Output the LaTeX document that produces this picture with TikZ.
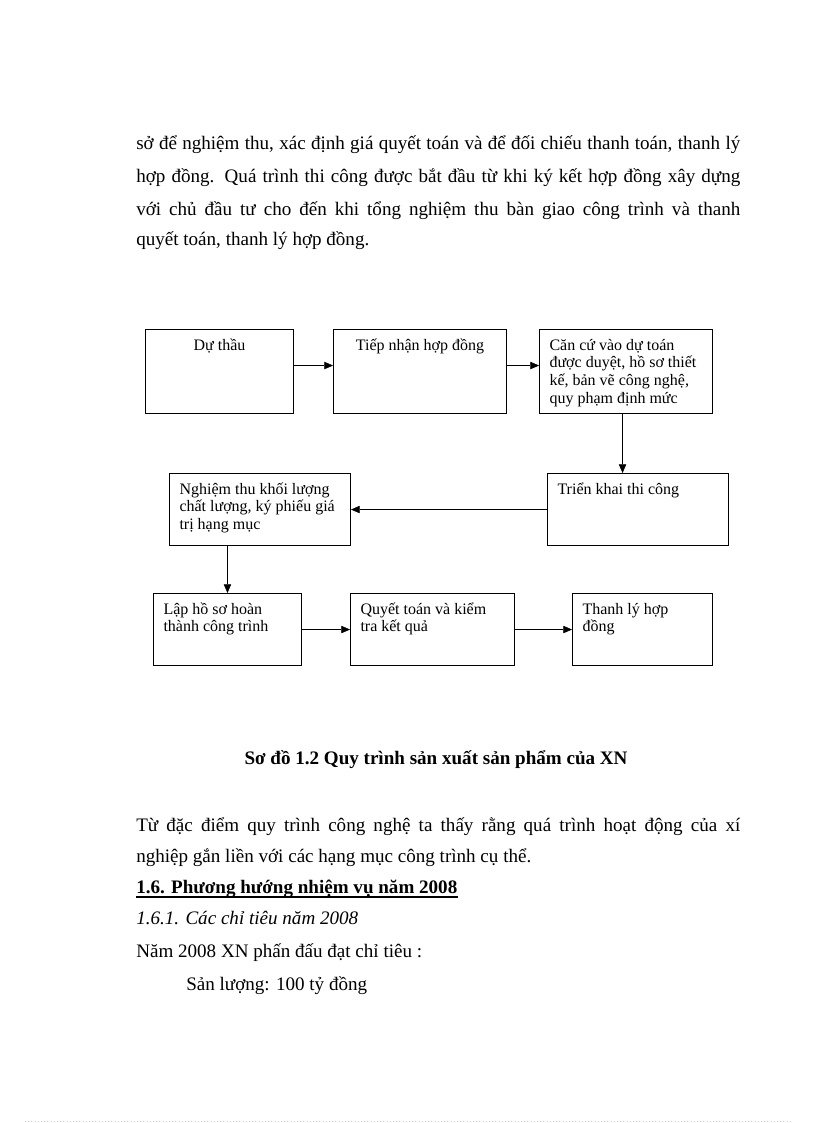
\documentclass[tikz,border=0pt]{standalone}
\usepackage{fontspec}
\setmainfont{Liberation Serif}
\usetikzlibrary{arrows.meta,positioning,calc}
\newdimen\pxu \pxu=0.75pt
\newcommand{\cell}[3]{\parbox[c][\dimexpr#2\pxu-17\pxu\relax][t]{\dimexpr#1\pxu-20\pxu\relax}{\raggedright\strut #3}}

\begin{document}
\begin{tikzpicture}[x=0.75pt,y=-0.75pt,
		box/.style={draw,line width=0.75pt,inner xsep=7.5pt,inner ysep=6.4pt,anchor=north west,font=\fontsize{12}{13.2}\selectfont},
		txt/.style={inner sep=0pt,anchor=base west,font=\fontsize{14.3}{17}\selectfont},
		>={Triangle[length=6.5pt,width=5.5pt]}]
	\useasboundingbox (0,0) rectangle (816,1123);
	\node[txt] (p1) at (136,150) {\makebox[604\pxu][s]{sở để nghiệm thu, xác định giá quyết toán và để đối chiếu thanh toán, thanh lý}};
	\node[txt] (p2) at (136,183) {\makebox[604\pxu][s]{hợp đồng. Quá trình thi công được bắt đầu từ khi ký kết hợp đồng xây dựng}};
	\node[txt] (p3) at (136,216) {\makebox[604\pxu][s]{với chủ đầu tư cho đến khi tổng nghiệm thu bàn giao công trình và thanh}};
	\node[txt] (p4) at (136,245) {quyết toán, thanh lý hợp đồng.};

	\node[box] (bid) at (145,329) {\cell{148}{84}{\centering Dự thầu}};
	\node[box] (contract) at (333,329) {\cell{173}{84}{\centering Tiếp nhận hợp đồng}};
	\node[box] (basis) at (539,329) {\cell{173}{84}{Căn cứ vào dự toán\\được duyệt, hồ sơ thiết\\kế, bản vẽ công nghệ,\\quy phạm định mức}};
	\node[box] (build) at (547,473) {\cell{181}{72}{Triển khai thi công}};
	\node[box] (accept) at (169,473) {\cell{181}{72}{Nghiệm thu khối lượng\\chất lượng, ký phiếu giá\\trị hạng mục}};
	\node[box] (dossier) at (153,593) {\cell{148}{72}{Lập hồ sơ hoàn\\thành công trình}};
	\node[box] (settle) at (350,593) {\cell{164}{72}{Quyết toán và kiểm\\tra kết quả}};
	\node[box] (close) at (572,593) {\cell{140}{72}{Thanh lý hợp\\đồng}};

	\draw[->] ([yshift=4.5pt]bid.east) -- ([yshift=4.5pt]contract.west);
	\draw[->] ([yshift=4.5pt]contract.east) -- ([yshift=4.5pt]basis.west);
	\draw[->] ([xshift=-2.6pt]basis.south) -- ([xshift=-2.6pt]basis.south |- build.north);
	\draw[->] (build.west) -- (accept.east);
	\draw[->] ([xshift=-24.4pt]accept.south) -- ([xshift=-24.4pt]accept.south |- dossier.north);
	\draw[->] (dossier.east) -- (settle.west);
	\draw[->] (settle.east) -- (close.west);

	\node[txt,anchor=base,font=\fontsize{14.3}{17}\selectfont\bfseries] (cap) at (436,764) {Sơ đồ 1.2 Quy trình sản xuất sản phẩm của XN};
	\node[txt] (q1) at (136,831) {\makebox[604\pxu][s]{Từ đặc điểm quy trình công nghệ ta thấy rằng quá trình hoạt động của xí}};
	\node[txt] (q2) at (136,862) {nghiệp gắn liền với các hạng mục công trình cụ thể.};
	\node[txt,font=\fontsize{14.3}{17}\selectfont\bfseries] (h16) at (136,893) {1.6. Phương hướng nhiệm vụ năm 2008};
	\draw[line width=1.3pt] ([yshift=-3pt]h16.base west) -- ([yshift=-3pt]h16.base east);
	\node[txt,font=\fontsize{14.3}{17}\selectfont\itshape] (h161) at (136,924) {1.6.1. Các chỉ tiêu năm 2008};
	\node[txt] (q3) at (136,957) {Năm 2008 XN phấn đấu đạt chỉ tiêu :};
	\node[txt] (q4) at (186,990) {Sản lượng: 100 tỷ đồng};
	\draw[gray!40,dotted] (25,1121) -- (792,1121);
\end{tikzpicture}
\end{document}
